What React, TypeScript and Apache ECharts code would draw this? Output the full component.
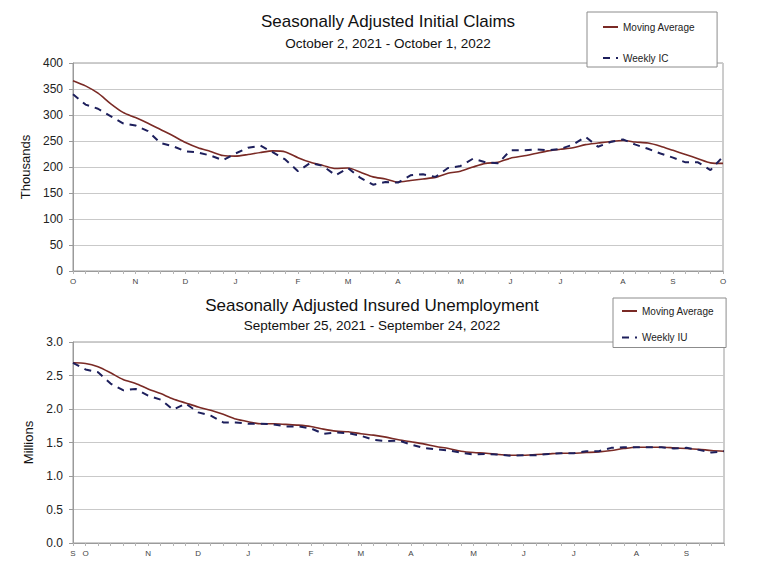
import React, { useEffect, useRef } from "react";
import * as echarts from "echarts";

// ---- Data ----
// Initial claims: weeks ending Oct 2, 2021 .. Oct 1, 2022 (53 weeks), thousands
const icMovingAvg = [
  366, 356, 342, 322, 305, 295, 284, 272, 260, 247, 237, 230, 222, 221, 224, 228, 231, 229,
  218, 209, 203, 197, 198, 190, 181, 177, 171, 174, 177, 180, 188, 192, 200, 207, 209, 217,
  221, 226, 231, 234, 237, 243, 246, 249, 251, 248, 246, 240, 232, 224, 216, 208, 207,
];
const icWeekly = [
  340, 320, 312, 298, 284, 280, 269, 246, 240, 230, 228, 222, 213, 226, 237, 241, 228, 214,
  192, 208, 202, 184, 198, 179, 166, 171, 170, 184, 186, 181, 198, 202, 216, 209, 207, 232,
  232, 234, 232, 235, 243, 258, 239, 248, 253, 243, 235, 226, 218, 209, 209, 194, 220,
];
const icTickIndex = [0, 5, 9, 13, 18, 22, 26, 31, 35, 39, 44, 48, 52];
const icTickLabels = ["O", "N", "D", "J", "F", "M", "A", "M", "J", "J", "A", "S", "O"];

// Insured unemployment: weeks ending Sep 25, 2021 .. Sep 24, 2022 (53 weeks), millions
const iuMovingAvg = [
  2.69, 2.68, 2.63, 2.54, 2.44, 2.38, 2.3, 2.23, 2.15, 2.09, 2.03, 1.98, 1.92, 1.85, 1.81, 1.78,
  1.78, 1.77, 1.76, 1.74, 1.7, 1.67, 1.66, 1.63, 1.61, 1.58, 1.54, 1.51, 1.48, 1.44, 1.41, 1.37,
  1.35, 1.34, 1.32, 1.31, 1.31, 1.32, 1.33, 1.34, 1.34, 1.35, 1.36, 1.38, 1.41, 1.43, 1.43, 1.43,
  1.42, 1.41, 1.4, 1.38, 1.37,
];
const iuWeekly = [
  2.69, 2.59, 2.55, 2.38, 2.28, 2.3, 2.2, 2.14, 1.99, 2.08, 1.95, 1.9, 1.8, 1.8, 1.78, 1.78,
  1.77, 1.74, 1.74, 1.71, 1.63, 1.65, 1.64, 1.6, 1.54, 1.52, 1.53, 1.47, 1.42, 1.4, 1.38, 1.35,
  1.32, 1.33, 1.32, 1.3, 1.31, 1.31, 1.33, 1.34, 1.34, 1.37, 1.37, 1.42, 1.43, 1.43, 1.43, 1.43,
  1.41, 1.42, 1.39, 1.35, 1.37,
];
const iuTickIndex = [0, 1, 6, 10, 14, 19, 23, 27, 32, 36, 40, 45, 49];
const iuTickLabels = ["S", "O", "N", "D", "J", "F", "M", "A", "M", "J", "J", "A", "S"];

function weekCategories(startIso: string, count: number): string[] {
  const out: string[] = [];
  const start = new Date(startIso + "T00:00:00Z").getTime();
  for (let i = 0; i < count; i++) {
    out.push(new Date(start + i * 7 * 86400000).toISOString().slice(0, 10));
  }
  return out;
}
const icWeeks = weekCategories("2021-10-02", icWeekly.length);
const iuWeeks = weekCategories("2021-09-25", iuWeekly.length);

const FONT = "Liberation Sans, Arial, sans-serif";
const MA_COLOR = "#7a2a25";
const WK_COLOR = "#1d1f5c";
const GRID_COLOR = "#c9c9c9";
const AXIS_COLOR = "#9a9a9a";

function xAxisFor(gridIndex: number, cats: string[], idx: number[], labels: string[]) {
  return {
    type: "category",
    gridIndex,
    data: cats,
    boundaryGap: false,
    axisLine: { show: true, lineStyle: { color: AXIS_COLOR, width: 1 } },
    axisTick: { show: true, interval: 0, length: 3, lineStyle: { color: "#b5b5b5" } },
    axisLabel: {
      interval: (i: number) => idx.indexOf(i) >= 0,
      formatter: (_v: string, i: number) => {
        const k = idx.indexOf(i);
        return k >= 0 ? labels[k] : "";
      },
      fontSize: 8,
      color: "#444",
      fontFamily: FONT,
      margin: 6,
    },
    splitLine: { show: false },
  };
}

export default function App() {
  const ref = useRef<HTMLDivElement>(null);
  useEffect(() => {
    if (!ref.current) return;
    const chart = echarts.init(ref.current, undefined, { renderer: "svg" });
    chart.setOption({
      animation: false,
      backgroundColor: "#ffffff",
      textStyle: { fontFamily: FONT },
      title: [
        {
          text: "Seasonally Adjusted Initial Claims",
          subtext: "October 2, 2021 - October 1, 2022",
          left: 388,
          top: 13,
          textAlign: "center",
          padding: 0,
          itemGap: 6,
          textStyle: { fontFamily: FONT, fontSize: 17, fontWeight: "normal", color: "#111" },
          subtextStyle: { fontFamily: FONT, fontSize: 13.5, color: "#111" },
        },
        {
          text: "Seasonally Adjusted Insured Unemployment",
          subtext: "September 25, 2021 - September 24, 2022",
          left: 372,
          top: 297,
          textAlign: "center",
          padding: 0,
          itemGap: 4,
          textStyle: { fontFamily: FONT, fontSize: 17, fontWeight: "normal", color: "#111" },
          subtextStyle: { fontFamily: FONT, fontSize: 13.5, color: "#111" },
        },
      ],
      legend: [
        {
          data: ["Moving Average", "Weekly IC"],
          orient: "vertical",
          left: 587,
          top: 12,
          padding: [9, 22, 3, 15],
          itemGap: 19,
          itemWidth: 15,
          itemHeight: 12,
          borderColor: "#8c8c8c",
          borderWidth: 1,
          backgroundColor: "#fff",
          selectedMode: false,
          itemStyle: { opacity: 0 },
          textStyle: { fontFamily: FONT, fontSize: 10, color: "#222", lineHeight: 12 },
        },
        {
          data: ["Moving Average", "Weekly IU"],
          orient: "vertical",
          left: 613,
          top: 298,
          padding: [7, 12, 4, 8],
          itemGap: 14.5,
          itemWidth: 15,
          itemHeight: 12,
          borderColor: "#8c8c8c",
          borderWidth: 1,
          backgroundColor: "#fff",
          selectedMode: false,
          itemStyle: { opacity: 0 },
          textStyle: { fontFamily: FONT, fontSize: 10, color: "#222", lineHeight: 12 },
        },
      ],
      grid: [
        {
          left: 73,
          right: 37,
          top: 63,
          height: 208,
          show: true,
          borderColor: AXIS_COLOR,
          borderWidth: 1,
          backgroundColor: "transparent",
        },
        {
          left: 73,
          right: 36,
          top: 342,
          height: 201,
          show: true,
          borderColor: AXIS_COLOR,
          borderWidth: 1,
          backgroundColor: "transparent",
        },
      ],
      xAxis: [
        xAxisFor(0, icWeeks, icTickIndex, icTickLabels),
        xAxisFor(1, iuWeeks, iuTickIndex, iuTickLabels),
      ],
      yAxis: [
        {
          type: "value",
          gridIndex: 0,
          min: 0,
          max: 400,
          interval: 50,
          name: "Thousands",
          nameLocation: "middle",
          nameGap: 38,
          nameTextStyle: { fontFamily: FONT, fontSize: 13, color: "#111" },
          axisLine: { show: true, lineStyle: { color: AXIS_COLOR } },
          axisTick: { show: true, length: 4, lineStyle: { color: AXIS_COLOR } },
          axisLabel: { fontFamily: FONT, fontSize: 12, color: "#222", margin: 10 },
          splitLine: { show: true, lineStyle: { color: GRID_COLOR, width: 1 } },
        },
        {
          type: "value",
          gridIndex: 1,
          min: 0,
          max: 3,
          interval: 0.5,
          name: "Millions",
          nameLocation: "middle",
          nameGap: 38,
          nameTextStyle: { fontFamily: FONT, fontSize: 13, color: "#111" },
          axisLine: { show: true, lineStyle: { color: AXIS_COLOR } },
          axisTick: { show: true, length: 4, lineStyle: { color: AXIS_COLOR } },
          axisLabel: {
            fontFamily: FONT,
            fontSize: 12,
            color: "#222",
            margin: 10,
            formatter: (v: number) => v.toFixed(1),
          },
          splitLine: { show: true, lineStyle: { color: GRID_COLOR, width: 1 } },
        },
      ],
      series: [
        {
          name: "Moving Average",
          type: "line",
          xAxisIndex: 0,
          yAxisIndex: 0,
          data: icMovingAvg,
          symbol: "none",
          smooth: 0.25,
          lineStyle: { color: MA_COLOR, width: 1.6 },
          itemStyle: { color: MA_COLOR },
          z: 3,
        },
        {
          name: "Weekly IC",
          type: "line",
          xAxisIndex: 0,
          yAxisIndex: 0,
          data: icWeekly,
          symbol: "none",
          lineStyle: { color: WK_COLOR, width: 2, type: [7, 6] },
          itemStyle: { color: WK_COLOR },
          z: 4,
        },
        {
          name: "Moving Average",
          type: "line",
          xAxisIndex: 1,
          yAxisIndex: 1,
          data: iuMovingAvg,
          symbol: "none",
          smooth: 0.25,
          lineStyle: { color: MA_COLOR, width: 1.6 },
          itemStyle: { color: MA_COLOR },
          z: 3,
        },
        {
          name: "Weekly IU",
          type: "line",
          xAxisIndex: 1,
          yAxisIndex: 1,
          data: iuWeekly,
          symbol: "none",
          lineStyle: { color: WK_COLOR, width: 2, type: [7, 6] },
          itemStyle: { color: WK_COLOR },
          z: 4,
        },
      ],
    });
    return () => chart.dispose();
  }, []);
  return (
    <div
      ref={ref}
      style={{ position: "absolute", left: 0, top: 0, width: 760, height: 578, background: "#fff" }}
    />
  );
}
